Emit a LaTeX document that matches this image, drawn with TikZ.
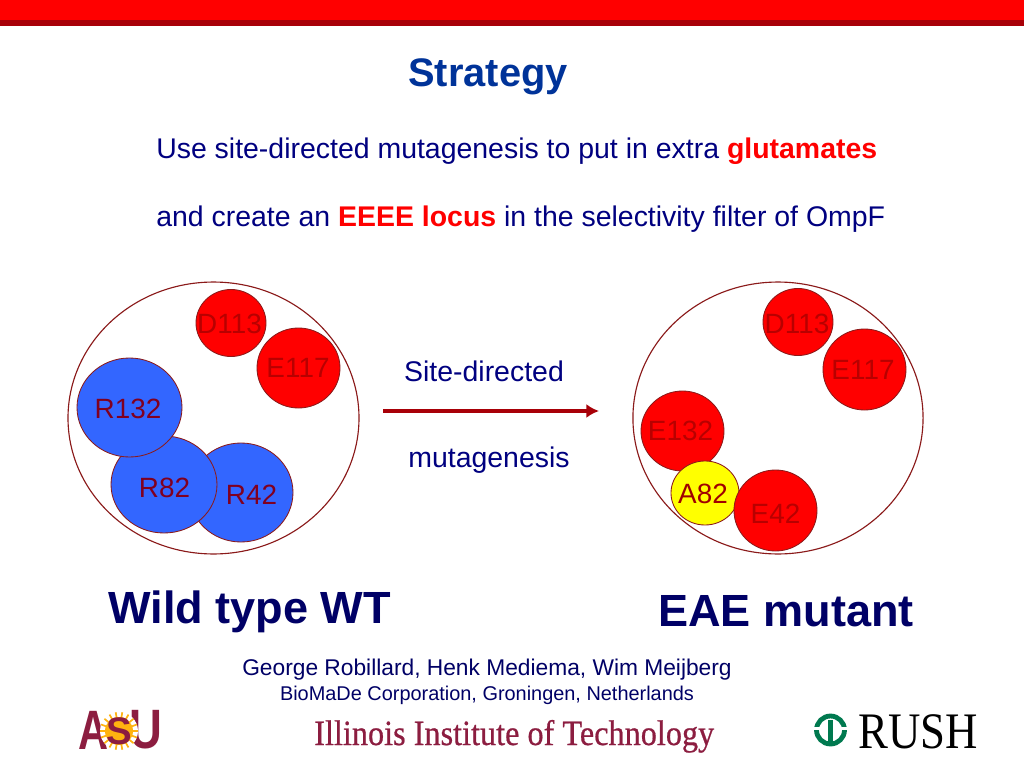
\documentclass[tikz,border=0pt]{standalone}
\usepackage{fontspec}
\setmainfont{Liberation Sans}
\newfontfamily\logofont{Liberation Serif}
\newfontfamily\iitfont[FakeBold=0.6]{Liberation Serif}
\usetikzlibrary{arrows.meta,shapes.geometric}
\definecolor{titleblue}{HTML}{003399}
\definecolor{bodynavy}{HTML}{000080}
\definecolor{darknavy}{HTML}{000066}
\definecolor{barred}{HTML}{FF0000}
\definecolor{bardark}{HTML}{A80008}
\definecolor{ringred}{HTML}{8B1A1A}
\definecolor{beadblue}{HTML}{3366FF}
\definecolor{beadyellow}{HTML}{FFFF00}
\definecolor{redlbl}{HTML}{B80000}
\definecolor{bluelbl}{HTML}{800020}
\definecolor{yellbl}{HTML}{A00000}
\definecolor{asumaroon}{HTML}{8C1D40}
\definecolor{asugold}{HTML}{FFB310}
\definecolor{rushgreen}{HTML}{00794F}
\newcommand{\sz}[1]{\fontsize{#1bp}{#1bp}\selectfont}
\tikzset{%
	textline/.style = {anchor=base, inner sep=0pt, text=bodynavy},
	ring/.style     = {draw=ringred, ellipse, line width=0.8pt, inner sep=0pt, minimum height=191.2bp},
	bead/.style     = {draw=ringred, ellipse, line width=0.6pt, inner sep=0pt},
	beadtext/.style = {inner sep=0pt, font=\sz{19.6}},
	asuletter/.style= {inner sep=0pt, text=asumaroon, font=\sz{39}\bfseries},
	arrow/.style    = {line width=2.8pt, draw=bardark, -{Latex[length=9pt,width=10pt]}},
}
\begin{document}
\begin{tikzpicture}[x=0.703125bp,y=-0.703125bp]
	\useasboundingbox (0,0) rectangle (1024,768);
	\fill[white] (0,0) rectangle (1024,768);
	% top bar
	\fill[barred] (0,0) rectangle (1024,20);
	\fill[bardark] (0,20) rectangle (1024,26);
	% heading
	\node[textline,text=titleblue,font=\sz{28}\bfseries] (title) at (488,87) {Strategy};
	\node[textline,anchor=base west,font=\sz{20}] (lineone) at (156,159) {Use site-directed mutagenesis to put in extra \textcolor{red}{\bfseries glutamates}};
	\node[textline,anchor=base west,font=\sz{20}] (linetwo) at (156,226) {and create an \textcolor{red}{\bfseries EEEE locus} in the selectivity filter of OmpF};
	% the two pores
	\node[ring,minimum width=204.6bp] (wtring) at (213.5,418) {};
	\node[ring,minimum width=204bp] (eaering) at (778,418) {};
	% name/x/y/width/height/fill
	\foreach \nm/\cx/\cy/\bw/\bh/\fc in {%
		wtD/231/323/70/67/red,
		wtE/298.5/368/83/80/red,
		wtRf/241/492.5/104/99/beadblue,
		wtRe/164/484.5/106/97/beadblue,
		wtRo/129.5/407.5/105/99/beadblue,
		eaeD/798/322/70/67/red,
		eaeEo/864.5/369.5/83/81/red,
		eaeEt/682.5/431/83/80/red,
		eaeA/705/493/68/64/beadyellow,
		eaeEf/775.5/510.5/83/81/red} {
		\node[bead,fill=\fc,minimum width=0.703125*\bw bp,minimum height=0.703125*\bh bp] (\nm) at (\cx,\cy) {};
	}
	\foreach \nm/\tx/\ty/\tc/\lbl in {%
		wtD/229.5/323.5/redlbl/D113, wtE/298/368/redlbl/E117, wtRf/251.5/495/bluelbl/R42,
		wtRe/164.5/487.5/bluelbl/R82, wtRo/128/408.5/bluelbl/R132,
		eaeD/797/323.5/redlbl/D113, eaeEo/863/370/redlbl/E117, eaeEt/680.5/431/redlbl/E132,
		eaeA/703/494/yellbl/A82, eaeEf/775.5/514/redlbl/E42}
		\node[beadtext,text=\tc] (\nm lbl) at (\tx,\ty) {\lbl};
	% middle arrow
	\node[textline,font=\sz{20}] (sitelbl) at (484,381) {Site-directed};
	\node[textline,font=\sz{20}] (mutlbl) at (489,467) {mutagenesis};
	\coordinate (arrowstart) at (383,411);
	\coordinate (arrowend) at (599,411);
	\draw[arrow] (arrowstart) -- (arrowend);
	% captions
	\node[textline,anchor=base west,text=darknavy,font=\sz{31.7}\bfseries] (wtlbl) at (108,623) {Wild type WT};
	\node[textline,anchor=base west,text=darknavy,font=\sz{31.7}\bfseries] (eaelbl) at (658,626) {EAE mutant};
	\node[textline,text=darknavy,font=\sz{16}] (names) at (487,675) {George Robillard, Henk Mediema, Wim Meijberg};
	\node[textline,text=darknavy,font=\sz{14}] (place) at (487,700) {BioMaDe Corporation, Groningen, Netherlands};
	% logos
	\node[asuletter,xscale=0.75] (asuA) at (94,730) {A};
	\node[asuletter,xscale=0.82] (asuU) at (146,730) {U};
	\fill[white] (119,731) circle (19);
	\foreach \a in {0,20,...,340} \draw[asugold,line width=1.2pt] (119,731) -- ++(\a:19);
	\fill[asugold] (119,731) circle (14);
	\node[inner sep=0pt,text=asumaroon,font=\sz{27}\bfseries] (asuS) at (119,731) {S};
	\node[anchor=base west,inner sep=0pt,text=asumaroon,font=\iitfont\sz{25},xscale=0.907] (iit) at (314,745) {Illinois Institute of Technology};
	\draw[rushgreen,line width=3.4pt] (830.5,730) circle (14);
	\fill[white] (813,727) rectangle (820,730);
	\fill[white] (841,727) rectangle (848,730);
	\fill[rushgreen] (828,720) rectangle (833,746);
	\node[anchor=base west,inner sep=0pt,font=\logofont\sz{36},xscale=0.875] (rush) at (858,748) {RUSH};
\end{tikzpicture}
\end{document}
